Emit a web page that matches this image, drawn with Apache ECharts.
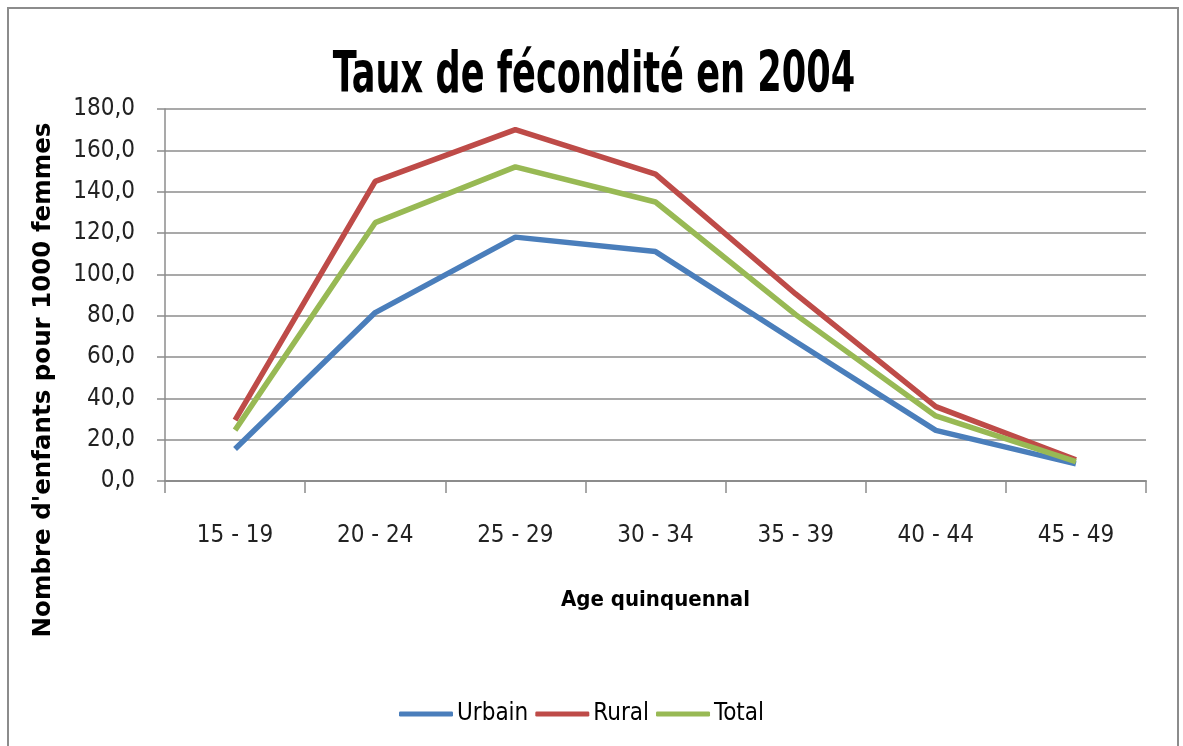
<!DOCTYPE html>
<html>
<head>
<meta charset="utf-8">
<script src="https://cdn.jsdelivr.net/npm/echarts@6/dist/echarts.min.js"></script>
<style>
  html, body { margin: 0; padding: 0; background: #fff; }
  #chart { width: 1183px; height: 746px; }
</style>
</head>
<body>
<div id="chart"></div>
<script>
// données
const ageGroups = ['15 - 19', '20 - 24', '25 - 29', '30 - 34', '35 - 39', '40 - 44', '45 - 49']
const urbain = [15.5, 81.5, 118.0, 111.0, 67.5, 24.5, 8.3]
const rural = [29.5, 145.0, 170.0, 148.5, 90.5, 36.0, 10.3]
const total = [24.6, 125.0, 152.0, 135.0, 80.5, 31.5, 9.4]
const seriesNames = ['Urbain', 'Rural', 'Total']

const narrow = "'Liberation Sans Narrow', 'DejaVu Sans Condensed', sans-serif"

const chart = echarts.init(document.getElementById('chart'))

const makeLine = (name, data, color) => ({
  name,
  type: 'line',
  data,
  symbol: 'none',
  lineStyle: { width: 5.5, color },
  itemStyle: { color }
})

const option = {
  animation: false,
  backgroundColor: '#fff',
  graphic: [
    {
      type: 'rect',
      shape: { x: 8, y: 8, width: 1170, height: 750 },
      style: { fill: 'none', stroke: '#8c8c8c', lineWidth: 2 },
      silent: true
    },
    // titre (police étroite simulée par un étirement)
    {
      type: 'text',
      x: 594,
      y: 77,
      scaleX: 0.85,
      scaleY: 1.22,
      style: {
        text: 'Taux de fécondité en 2004',
        fontFamily: narrow,
        fontWeight: 'bold',
        fontSize: 46,
        fill: '#000',
        align: 'center',
        verticalAlign: 'middle'
      }
    },
    {
      type: 'text',
      x: 44,
      y: 380,
      rotation: Math.PI / 2,
      style: {
        text: "Nombre d'enfants pour 1000 femmes",
        fontFamily: "'DejaVu Sans', sans-serif",
        fontWeight: 'bold',
        fontSize: 24.5,
        fill: '#000',
        align: 'center',
        verticalAlign: 'middle'
      }
    }
  ],
  legend: {
    data: seriesNames,
    top: 697,
    left: 394,
    itemWidth: 54,
    itemHeight: 5,
    itemGap: 7,
    icon: 'roundRect',
    textStyle: { fontFamily: narrow, fontSize: 24, color: '#000', padding: [0, 0, 0, -1] }
  },
  grid: { left: 165, right: 37, top: 109, bottom: 265 },
  xAxis: {
    type: 'category',
    data: ageGroups,
    boundaryGap: true,
    name: 'Age quinquennal',
    nameLocation: 'middle',
    nameGap: 108,
    nameTextStyle: { fontFamily: narrow, fontSize: 22, fontWeight: 'bold', color: '#000' },
    axisLine: { lineStyle: { color: '#8c8c8c', width: 2 } },
    axisTick: { show: true, length: 12, lineStyle: { color: '#8c8c8c', width: 1.5 } },
    axisLabel: { margin: 43, fontFamily: narrow, fontSize: 24, color: '#222' },
    splitLine: { show: false }
  },
  yAxis: {
    type: 'value',
    min: 0,
    max: 180,
    interval: 20,
    axisLine: { show: true, lineStyle: { color: '#8c8c8c', width: 1.5 } },
    axisTick: { show: true, length: 8, lineStyle: { color: '#8c8c8c', width: 1.5 } },
    axisLabel: {
      margin: 30,
      fontFamily: narrow,
      fontSize: 24,
      color: '#222',
      formatter: v => v.toFixed(1).replace('.', ',')
    },
    splitLine: { lineStyle: { color: '#8c8c8c', width: 1.5 } }
  },
  series: [
    makeLine('Urbain', urbain, '#4a7ebb'),
    makeLine('Rural', rural, '#be4b48'),
    makeLine('Total', total, '#98b954')
  ]
}

chart.setOption(option)
</script>
</body>
</html>
